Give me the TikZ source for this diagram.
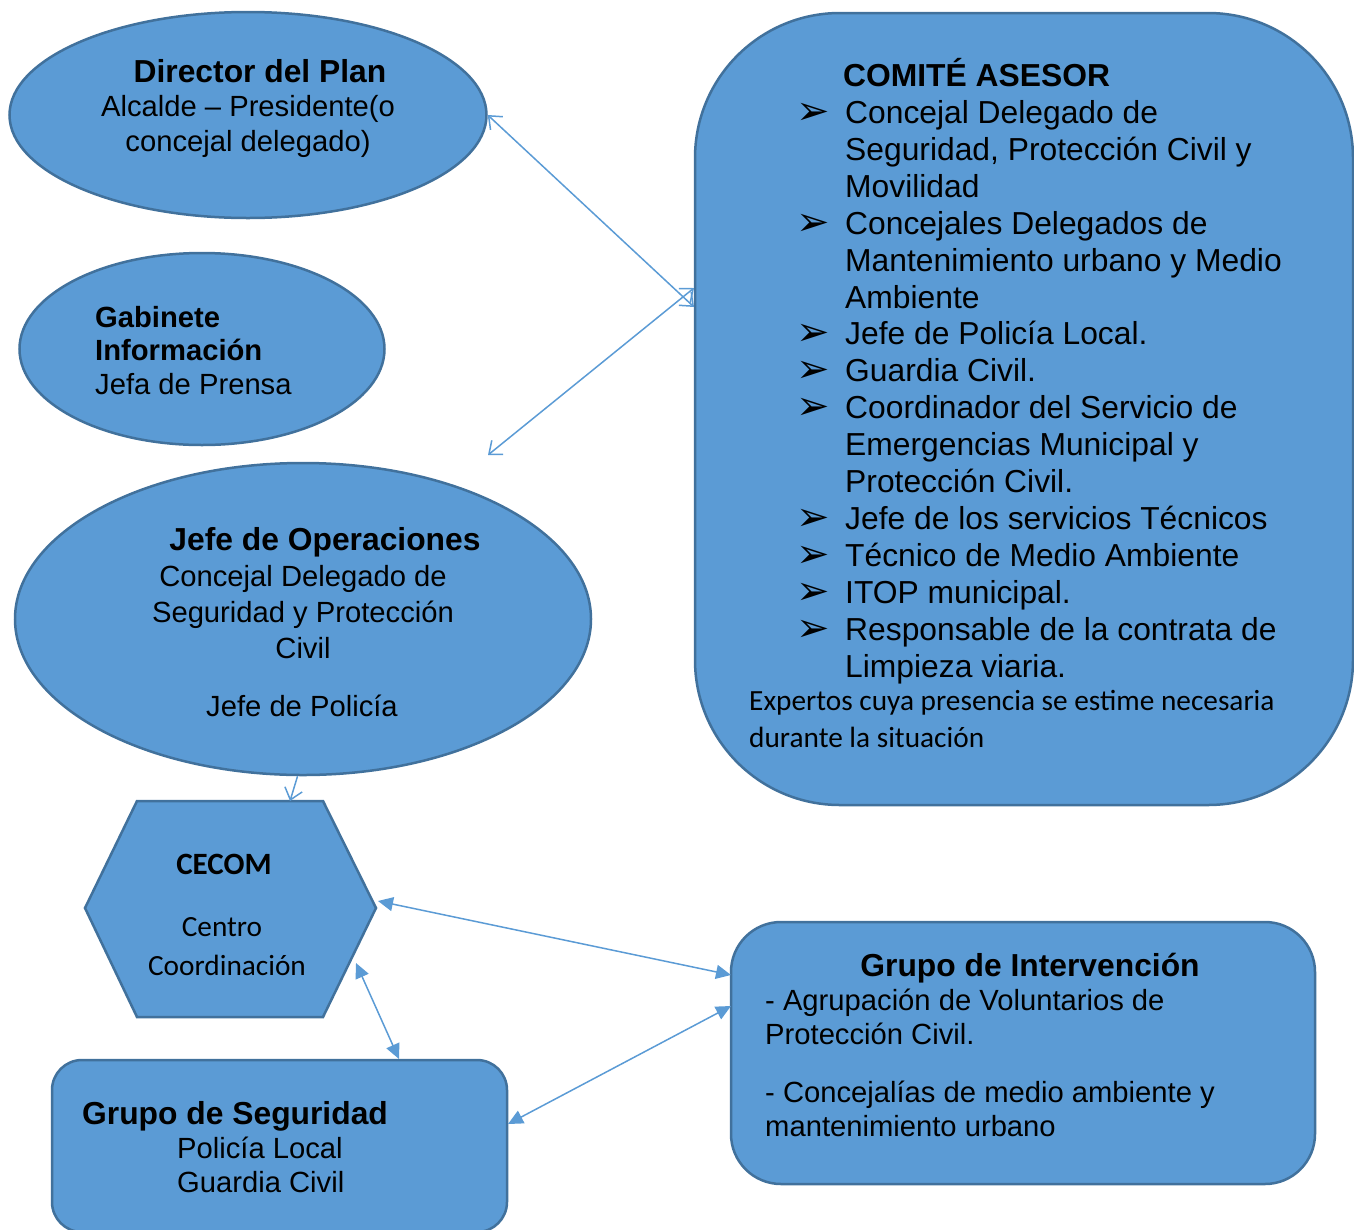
\documentclass[tikz,border=0pt]{standalone}
\usepackage{fontspec}
\setmainfont{Liberation Sans}
\newfontfamily\calibri{Carlito}
\newfontfamily\dejavu{DejaVu Sans}
\usetikzlibrary{shapes.geometric,arrows.meta}

\definecolor{boxfill}{HTML}{5B9BD5}
\definecolor{boxline}{HTML}{41719C}

\tikzset{
  shapebox/.style={draw=boxline, fill=boxfill, line width=2.5pt, inner sep=0pt},
  oval/.style={shapebox, ellipse},
  title/.style={font=\fontsize{31.8}{36}\selectfont\bfseries, anchor=base, inner sep=0pt},
  txt/.style={font=\fontsize{29.2}{34}\selectfont, anchor=base, inner sep=0pt},
  item/.style={font=\fontsize{31.8}{36}\selectfont, anchor=base west, inner sep=0pt},
  cal/.style={font=\fontsize{29.3}{36}\selectfont\calibri, anchor=base, inner sep=0pt},
  link/.style={draw=boxfill, line width=1.5pt},
  openlink/.style={link, {Straight Barb[length=11pt,width=18pt]}-{Straight Barb[length=11pt,width=18pt]}},
  solidlink/.style={link, {Triangle[length=15pt,width=14pt]}-{Triangle[length=15pt,width=14pt]}},
}

\begin{document}
\begin{tikzpicture}[x=1pt,y=-1pt]
\useasboundingbox (0,0) rectangle (1354,1229);
\clip (0,0) rectangle (1354,1229);

% shapes
\node[oval, minimum width=477pt, minimum height=206pt] (dir) at (248,115) {};
\node[oval, minimum width=365pt, minimum height=192pt] (gab) at (202,349) {};
\node[oval, minimum width=576pt, minimum height=312pt] (ops) at (303,619) {};
\node[shapebox, rounded corners=145pt, minimum width=658pt, minimum height=792pt] (comite) at (1024,409) {};
\node[shapebox, rounded corners=30pt, minimum width=455pt, minimum height=172pt] (seg) at (279.5,1146) {};
\node[shapebox, rounded corners=50pt, minimum width=584pt, minimum height=262pt] (inter) at (1023,1053) {};
\draw[shapebox] (137,801) -- (323,801) -- (376,908) -- (323,1017) -- (137,1017) -- (85,908) -- cycle;

% connector ends
\coordinate (comiteW1) at (694,307);
\coordinate (comiteW2) at (694,288);
\coordinate (libre) at (488,455);
\coordinate (cecomN) at (290,801);
\coordinate (cecomE) at (378,901);
\coordinate (cecomSE) at (356,963);
\coordinate (segN) at (399,1059);
\coordinate (segE) at (508,1124);
\coordinate (interW1) at (731,975);
\coordinate (interW2) at (731,1006);

% connectors
\draw[openlink] (dir.east) -- (comiteW1);
\draw[openlink] (libre) -- (comiteW2);
\draw[link, -{Straight Barb[length=11pt,width=18pt]}] (ops.-92) -- (cecomN);
\draw[solidlink] (cecomE) -- (interW1);
\draw[solidlink] (cecomSE) -- (segN);
\draw[solidlink] (segE) -- (interW2);

% Director del Plan
\node[title] (dirT) at (260,82) {Director del Plan};
\node[txt] (dirA) at (248,116) {Alcalde – Presidente(o};
\node[txt] (dirB) at (248,151) {concejal delegado)};

% Gabinete
\node[txt, font=\fontsize{29.2}{34}\selectfont\bfseries, anchor=base west] (gabT) at (95,327) {Gabinete};
\node[txt, font=\fontsize{29.2}{34}\selectfont\bfseries, anchor=base west] (gabU) at (95,360) {Información};
\node[txt, anchor=base west] (gabA) at (95,394) {Jefa de Prensa};

% Jefe de Operaciones
\node[title] (opsT) at (325,550) {Jefe de Operaciones};
\node[txt] (opsA) at (303,586) {Concejal Delegado de};
\node[txt] (opsB) at (303,622) {Seguridad y Protección};
\node[txt] (opsC) at (303,658) {Civil};
\node[txt] (opsD) at (302,716) {Jefe de Policía};

% Comite asesor
\node[title, anchor=base west] (comT) at (843,86) {COMITÉ ASESOR};
\foreach \i/\yy/\txt in {1/123/Concejal Delegado de, 2/160/{Seguridad, Protección Civil y}, 3/197/Movilidad,
    4/234/Concejales Delegados de, 5/271/Mantenimiento urbano y Medio, 6/308/Ambiente,
    7/344/Jefe de Policía Local., 8/381/Guardia Civil., 9/418/Coordinador del Servicio de,
    10/455/Emergencias Municipal y, 11/492/Protección Civil., 12/529/Jefe de los servicios Técnicos,
    13/566/Técnico de Medio Ambiente, 14/603/ITOP municipal., 15/640/Responsable de la contrata de,
    16/677/Limpieza viaria.}
  \node[item] (com\i) at (845,\yy) {\txt};
\foreach \i/\yy in {1/123, 2/234, 3/344, 4/381, 5/418, 6/529, 7/566, 8/603, 9/640}
  \node[item, font=\fontsize{40}{40}\selectfont\dejavu] (bul\i) at (796,\yy+1) {➢};
\node[cal, anchor=base west] (comX) at (749,710) {Expertos cuya presencia se estime necesaria};
\node[cal, anchor=base west] (comY) at (749,747) {durante la situación};

% CECOM
\node[cal, font=\fontsize{31}{36}\selectfont\calibri\bfseries] (cecT) at (224,874) {CECOM};
\node[cal] (cecA) at (222,936) {Centro};
\node[cal] (cecB) at (227,975) {Coordinación};

% Grupo de Seguridad
\node[title, anchor=base west] (segT) at (82,1124) {Grupo de Seguridad};
\node[txt, anchor=base west] (segA) at (177,1158) {Policía Local};
\node[txt, anchor=base west] (segB) at (177,1192) {Guardia Civil};

% Grupo de Intervencion
\node[title] (intT) at (1030,976) {Grupo de Intervención};
\node[txt, anchor=base west] (intA) at (765,1010) {- Agrupación de Voluntarios de};
\node[txt, anchor=base west] (intB) at (765,1044) {Protección Civil.};
\node[txt, anchor=base west] (intC) at (765,1102) {- Concejalías de medio ambiente y};
\node[txt, anchor=base west] (intD) at (765,1136) {mantenimiento urbano};
\end{tikzpicture}
\end{document}
